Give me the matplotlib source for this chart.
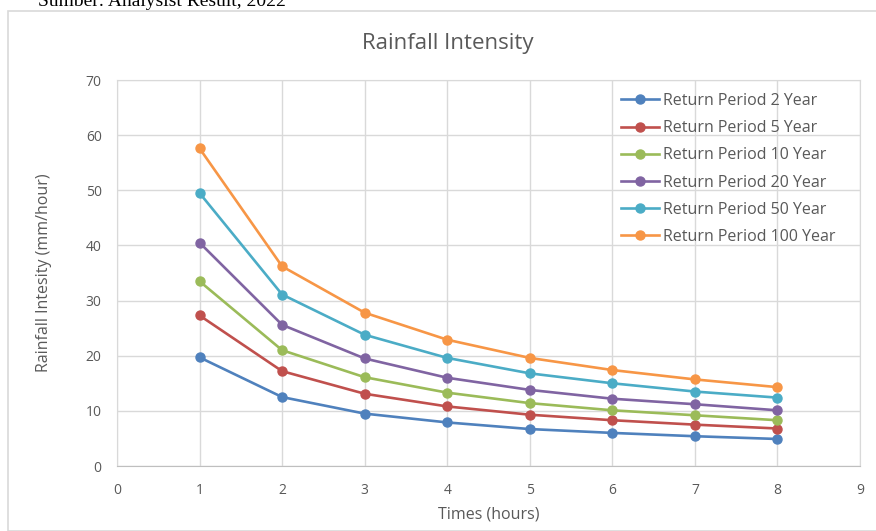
import matplotlib.pyplot as plt
from matplotlib.patches import Rectangle

# data
times = [1, 2, 3, 4, 5, 6, 7, 8]
rp_2 = [19.7, 12.5, 9.5, 7.9, 6.7, 6.0, 5.4, 4.9]
rp_5 = [27.3, 17.2, 13.1, 10.8, 9.3, 8.3, 7.5, 6.8]
rp_10 = [33.5, 21.0, 16.1, 13.3, 11.4, 10.1, 9.2, 8.3]
rp_20 = [40.5, 25.6, 19.5, 16.0, 13.8, 12.2, 11.2, 10.1]
rp_50 = [49.5, 31.1, 23.8, 19.6, 16.8, 15.0, 13.5, 12.4]
rp_100 = [57.6, 36.2, 27.8, 22.9, 19.6, 17.4, 15.7, 14.3]

labels = ["Return Period 2 Year", "Return Period 5 Year", "Return Period 10 Year",
          "Return Period 20 Year", "Return Period 50 Year", "Return Period 100 Year"]
colors = ["#4F81BD", "#C0504D", "#9BBB59", "#8064A2", "#4BACC6", "#F79646"]
series = [rp_2, rp_5, rp_10, rp_20, rp_50, rp_100]

plt.rcParams['font.family'] = ['Open Sans', 'DejaVu Sans']
txt = "#595959"
grid = "#D9D9D9"

fig = plt.figure(figsize=(8.76, 5.31), dpi=100)
ax = fig.add_axes([117/876, 1 - 466/531, (860-117)/876, (466-80)/531])

# chart border and source note (cut by the top edge, as in the source image)
fig.patches.append(Rectangle((8/876, 0), 1, 1 - 11/531, transform=fig.transFigure,
                             fill=False, edgecolor=grid, linewidth=1.2))
fig.text(38/876, 1 - 6/531, "Sumber: Analysist Result, 2022", family="Liberation Serif",
         fontsize=14, color="black", va="baseline", ha="left")

for vals, lab, c in zip(series, labels, colors):
    ax.plot(times, vals, color=c, linewidth=1.9, marker="o", markersize=6.5, label=lab)

ax.set_xlim(0, 9)
ax.set_ylim(0, 70)
ax.set_xticks(range(0, 10))
ax.set_yticks(range(0, 71, 10))
ax.grid(True, color=grid, linewidth=1)
ax.set_axisbelow(True)
ax.tick_params(length=0, labelsize=10, colors=txt)
ax.tick_params(axis="x", pad=12)
ax.tick_params(axis="y", pad=11)
for s in ["top", "right", "left"]:
    ax.spines[s].set_color(grid)
ax.spines["bottom"].set_color("#BFBFBF")

ax.set_xlabel("Times (hours)", fontsize=11.5, color=txt)
ax.set_ylabel("Rainfall Intesity (mm/hour)", fontsize=11.5, color=txt)
ax.xaxis.set_label_coords(0.5, -0.106)
ax.yaxis.set_label_coords(-0.0875, 0.5)
fig.text(448/876, 1 - 44/531, "Rainfall Intensity", fontsize=16, color=txt,
         ha="center", va="center")

leg = ax.legend(loc="upper left", bbox_to_anchor=(621/876, 1 - 93/531),
                bbox_transform=fig.transFigure, frameon=False, fontsize=11.5,
                handlelength=2.4, handletextpad=0.2, labelspacing=0.7,
                borderpad=0, borderaxespad=0)
for t in leg.get_texts():
    t.set_color(txt)

plt.savefig("out.png", dpi=100)
